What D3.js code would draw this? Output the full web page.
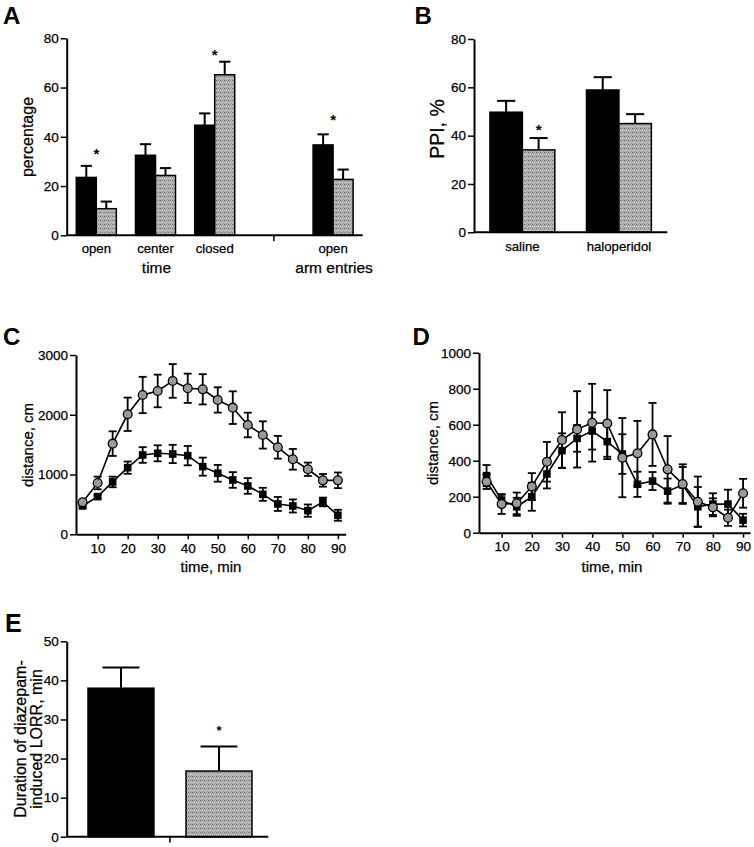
<!DOCTYPE html>
<html><head><meta charset="utf-8">
<script src="https://cdn.jsdelivr.net/npm/d3@7"></script>
<style>body{margin:0;background:#fff}svg{display:block}</style>
</head><body>
<svg id="chart" width="754" height="847"></svg>
<script>
// ---------------- DATA ----------------
// Panel A (elevated plus maze)
const aCategories = ["open", "center", "closed", "", "open"];
const aGroupLabels = [{label: "time", cats: [1]}, {label: "arm entries", cats: [4]}];
const aControl    = [23.5, 32.5, 44.7, null, 36.7];
const aControlErr = [4.7, 4.5, 4.8, null, 4.3];
const aMutant     = [10.8, 24.3, 65.2, null, 22.7];
const aMutantErr  = [2.9, 3.0, 5.3, null, 4.0];
const aStars      = [34.4, null, 74.5, null, 48.1];   // star level (percentage units), over group
const aYTicks     = [0, 20, 40, 60, 80];

// Panel B (PPI)
const bCategories = ["saline", "haloperidol"];
const bControl    = [49.7, 58.9];
const bControlErr = [4.7, 5.3];
const bMutant     = [34.1, 45.0];
const bMutantErr  = [4.9, 3.9];
const bStars      = [44.0, null];                     // over mutant bar
const bYTicks     = [0, 20, 40, 60, 80];

// Panel C (locomotion, time course)
const cTime       = [5,10,15,20,25,30,35,40,45,50,55,60,65,70,75,80,85,90];
const cControl    = [474,630,876,1115,1327,1355,1344,1316,1132,1021,909,809,669,508,474,396,541,318];
const cControlErr = [30,30,89,103,131,134,153,162,151,140,131,131,109,117,109,103,73,92];
const cMutant     = [535,859,1517,2008,2331,2398,2566,2443,2426,2248,2119,1829,1662,1456,1255,1088,903,903];
const cMutantErr  = [40,106,206,279,304,273,282,245,253,212,273,206,228,190,173,112,106,131];
const cYTicks     = [0, 1000, 2000, 3000];
const cXTicks     = [10,20,30,40,50,60,70,80,90];

// Panel D (locomotion, time course)
const dTime       = [5,10,15,20,25,30,35,40,45,50,55,60,65,70,75,80,85,90];
const dControl    = [317,181,144,200,326,456,524,565,506,437,269,287,231,265,144,159,159,70];
const dControlErr = [59,30,50,78,80,96,74,103,97,110,70,50,70,100,110,60,80,35];
const dMutant     = [283,159,163,256,394,515,574,611,607,417,441,546,352,270,172,141,83,219];
const dMutantErr  = [40,55,60,75,110,154,212,216,185,220,180,175,185,110,140,50,45,80];
const dYTicks     = [0, 200, 400, 600, 800, 1000];
const dXTicks     = [10,20,30,40,50,60,70,80,90];

// Panel E (LORR)
const eCategories = ["control", "mutant"];
const eValues     = [38.0, 16.8];
const eErr        = [5.3, 6.3];
const eStars      = [null, 28.0];
const eYTicks     = [0, 10, 20, 30, 40, 50];

// ---------------- DRAWING ----------------
const FONT = "'Liberation Sans', Arial, Helvetica, sans-serif";
const svg = d3.select("#chart");
const BLACK = "#000", GRAY = "url(#grayfill)";

// gray dotted fill pattern
const defs = svg.append("defs");
const pat = defs.append("pattern").attr("id", "grayfill").attr("patternUnits", "userSpaceOnUse")
  .attr("width", 4).attr("height", 4);
pat.append("rect").attr("width", 4).attr("height", 4).attr("fill", "#adadad");
pat.append("rect").attr("x", 0).attr("y", 0).attr("width", 1).attr("height", 1).attr("fill", "#7a7a7a");
pat.append("rect").attr("x", 2).attr("y", 2).attr("width", 1).attr("height", 1).attr("fill", "#d2d2d2");
pat.append("rect").attr("x", 2).attr("y", 0).attr("width", 1).attr("height", 1).attr("fill", "#929292");
pat.append("rect").attr("x", 0).attr("y", 2).attr("width", 1).attr("height", 1).attr("fill", "#c6c6c6");

function styleAxis(g, fs) {
  g.select(".domain").attr("stroke", "#000").attr("stroke-width", 2);
  g.selectAll(".tick line").attr("stroke", "#000").attr("stroke-width", 1.5);
  g.selectAll(".tick text").attr("font-size", fs || 13.5).attr("font-family", FONT).attr("fill", "#000")
    .attr("stroke", "#000").attr("stroke-width", 0.25);
}

function txt(t, x, y, fs, opts = {}) {
  const el = svg.append("text").attr("x", x).attr("y", y).text(t)
    .attr("font-family", FONT).attr("font-size", fs).attr("fill", "#000")
    .attr("text-anchor", opts.anchor || "middle");
  if (opts.bold) el.attr("font-weight", "bold");
  else el.attr("stroke", "#000").attr("stroke-width", 0.25);
  if (opts.rotate) el.attr("transform", `rotate(-90,${x},${y})`);
  return el;
}

function star(x, yCenter, fs) {
  txt("*", x, yCenter + 0.575 * fs, fs, {bold: true});
}

function yAxis(y, x0, ticks) {
  const g = svg.append("g").attr("transform", `translate(${x0},0)`)
    .call(d3.axisLeft(y).tickValues(ticks).tickSize(6).tickSizeOuter(0).tickPadding(2).tickFormat(d3.format("d")));
  styleAxis(g, 13.5);
}

function barPanel(o) {
  const y = d3.scaleLinear().domain([0, o.yMax]).range([o.yBottom, o.yTop]);
  const x = d3.scaleBand().domain(d3.range(o.categories.length)).range([o.x0, o.x1])
    .paddingInner(o.pi).paddingOuter(o.po).align(o.align == null ? 0.5 : o.align);
  const xs = d3.scaleBand().domain(d3.range(o.series.length)).range([0, x.bandwidth()]);
  const bw = xs.bandwidth();
  const g = svg.append("g");
  o.series.forEach((s, si) => {
    s.values.forEach((v, i) => {
      if (v == null) return;
      const left = x(i) + xs(si), cx = left + bw / 2;
      const top = y(v), etop = y(v + s.errs[i]);
      const fill = Array.isArray(s.fill) ? s.fill[i] : s.fill;
      g.append("line").attr("x1", cx).attr("x2", cx).attr("y1", top).attr("y2", etop)
        .attr("stroke", "#000").attr("stroke-width", 2);
      g.append("line").attr("x1", cx - bw * 0.28).attr("x2", cx + bw * 0.28).attr("y1", etop).attr("y2", etop)
        .attr("stroke", "#000").attr("stroke-width", 2);
      g.append("rect").attr("x", left).attr("y", top).attr("width", bw).attr("height", y(0) - top)
        .attr("fill", fill).attr("stroke", "#000").attr("stroke-width", 1.5);
    });
  });
  g.append("line").attr("x1", o.x0).attr("x2", o.x1).attr("y1", y(0)).attr("y2", y(0))
    .attr("stroke", "#000").attr("stroke-width", 2);
  (o.xTicks || []).forEach(xv => {
    const px = o.xTickAtGap ? (x(xv[0]) + x.bandwidth() + x(xv[1])) / 2 : x(xv) + x.bandwidth() / 2;
    g.append("line").attr("x1", px).attr("x2", px).attr("y1", y(0)).attr("y2", y(0) + 6)
      .attr("stroke", "#000").attr("stroke-width", 1.5);
  });
  yAxis(y, o.x0, o.yTicks);
  if (o.showCats) {
    o.categories.forEach((c, i) => {
      if (c) txt(c, x(i) + x.bandwidth() / 2, y(0) + o.catOffset, 13.2);
    });
  }
  return {x, y, xs};
}

function linePanel(o) {
  const x = d3.scaleLinear().domain(o.xDomain).range([o.x0, o.x1]);
  const y = d3.scaleLinear().domain([0, o.yMax]).range([o.yBottom, o.yTop]);
  const g = svg.append("g");
  const capW = 4;
  o.series.forEach(s => {
    s.values.forEach((v, i) => {
      const cx = x(o.time[i]), lo = y(v - s.errs[i]), hi = y(v + s.errs[i]);
      g.append("line").attr("x1", cx).attr("x2", cx).attr("y1", lo).attr("y2", hi)
        .attr("stroke", "#000").attr("stroke-width", 1.8);
      [lo, hi].forEach(yy => g.append("line").attr("x1", cx - capW).attr("x2", cx + capW)
        .attr("y1", yy).attr("y2", yy).attr("stroke", "#000").attr("stroke-width", 1.8));
    });
  });
  const line = d3.line().x((d, i) => x(o.time[i])).y(d => y(d));
  o.series.forEach(s => {
    g.append("path").attr("d", line(s.values)).attr("fill", "none")
      .attr("stroke", "#000").attr("stroke-width", 1.6);
  });
  o.series.forEach(s => {
    s.values.forEach((v, i) => {
      const cx = x(o.time[i]), cy = y(v);
      if (s.marker === "square") {
        g.append("rect").attr("x", cx - 3.8).attr("y", cy - 3.8).attr("width", 7.6).attr("height", 7.6)
          .attr("fill", "#000");
      } else {
        g.append("circle").attr("cx", cx).attr("cy", cy).attr("r", 4.4)
          .attr("fill", "#999999").attr("stroke", "#000").attr("stroke-width", 1.3);
      }
    });
  });
  const gx = svg.append("g").attr("transform", `translate(0,${o.yBottom})`)
    .call(d3.axisBottom(x).tickValues(o.xTicks).tickSize(5).tickSizeOuter(0).tickPadding(4).tickFormat(d3.format("d")));
  styleAxis(gx, 13.5);
  yAxis(y, o.x0, o.yTicks);
  return {x, y};
}

// ---- Panel A ----
txt("A", 3, 24, 24, {bold: true, anchor: "start"});
const A = barPanel({
  categories: aCategories, x0: 66.7, x1: 362.7, yTop: 38.3, yBottom: 235.3, yMax: 80,
  pi: 0.324, po: 0.162, yTicks: aYTicks, showCats: true, catOffset: 17.5,
  xTicks: [3],
  series: [{values: aControl, errs: aControlErr, fill: BLACK},
           {values: aMutant, errs: aMutantErr, fill: GRAY}]
});
aGroupLabels.forEach(gl => {
  const c = gl.cats[0];
  txt(gl.label, A.x(c) + A.x.bandwidth() / 2 + 1, 272.5, 15.5);
});
aStars.forEach((s, i) => { if (s != null) star(A.x(i) + A.x.bandwidth() / 2, A.y(s), 15); });
txt("percentage", 32.5, 137, 16, {rotate: true});

// ---- Panel B ----
txt("B", 414.5, 24, 24, {bold: true, anchor: "start"});
const B = barPanel({
  categories: bCategories, x0: 474, x1: 667.3, yTop: 39, yBottom: 232.3, yMax: 80,
  pi: 0.328, po: 0.165, yTicks: bYTicks, showCats: true, catOffset: 18.7,
  series: [{values: bControl, errs: bControlErr, fill: BLACK},
           {values: bMutant, errs: bMutantErr, fill: GRAY}]
});
bStars.forEach((s, i) => { if (s != null) star(B.x(i) + B.xs(1) + B.xs.bandwidth() / 2, B.y(s), 15); });
txt("PPI, %", 444, 129, 19.5, {rotate: true});

// ---- Panel C ----
txt("C", 3, 345, 24, {bold: true, anchor: "start"});
linePanel({
  time: cTime, xDomain: [2.8, 92.6], x0: 76, x1: 345.7, yTop: 355, yBottom: 534.3, yMax: 3000,
  yTicks: cYTicks, xTicks: cXTicks,
  series: [{values: cControl, errs: cControlErr, marker: "square"},
           {values: cMutant, errs: cMutantErr, marker: "circle"}]
});
txt("distance, cm", 33, 445, 15, {rotate: true});
txt("time, min", 211, 572, 15);

// ---- Panel D ----
txt("D", 412.5, 345, 24, {bold: true, anchor: "start"});
linePanel({
  time: dTime, xDomain: [2.5, 92.3], x0: 479, x1: 750, yTop: 352.7, yBottom: 532.7, yMax: 1000,
  yTicks: dYTicks, xTicks: dXTicks,
  series: [{values: dControl, errs: dControlErr, marker: "square"},
           {values: dMutant, errs: dMutantErr, marker: "circle"}]
});
txt("distance, cm", 438, 443, 15, {rotate: true});
txt("time, min", 612, 572, 15);

// ---- Panel E ----
txt("E", 5, 631.5, 25, {bold: true, anchor: "start"});
const E = barPanel({
  categories: eCategories, x0: 66.7, x1: 268.3, yTop: 641.3, yBottom: 836.7, yMax: 50,
  pi: 0.327, po: 0.192, align: 0.566, yTicks: eYTicks, showCats: false,
  xTicks: [[0, 1]], xTickAtGap: true,
  series: [{values: eValues, errs: eErr, fill: [BLACK, GRAY]}]
});
eStars.forEach((s, i) => { if (s != null) star(E.x(i) + E.x.bandwidth() / 2, E.y(s), 13); });
txt("Duration of diazepam-", 26, 739, 16, {rotate: true});
txt("induced LORR, min", 42, 739, 16, {rotate: true});
</script>
</body></html>
